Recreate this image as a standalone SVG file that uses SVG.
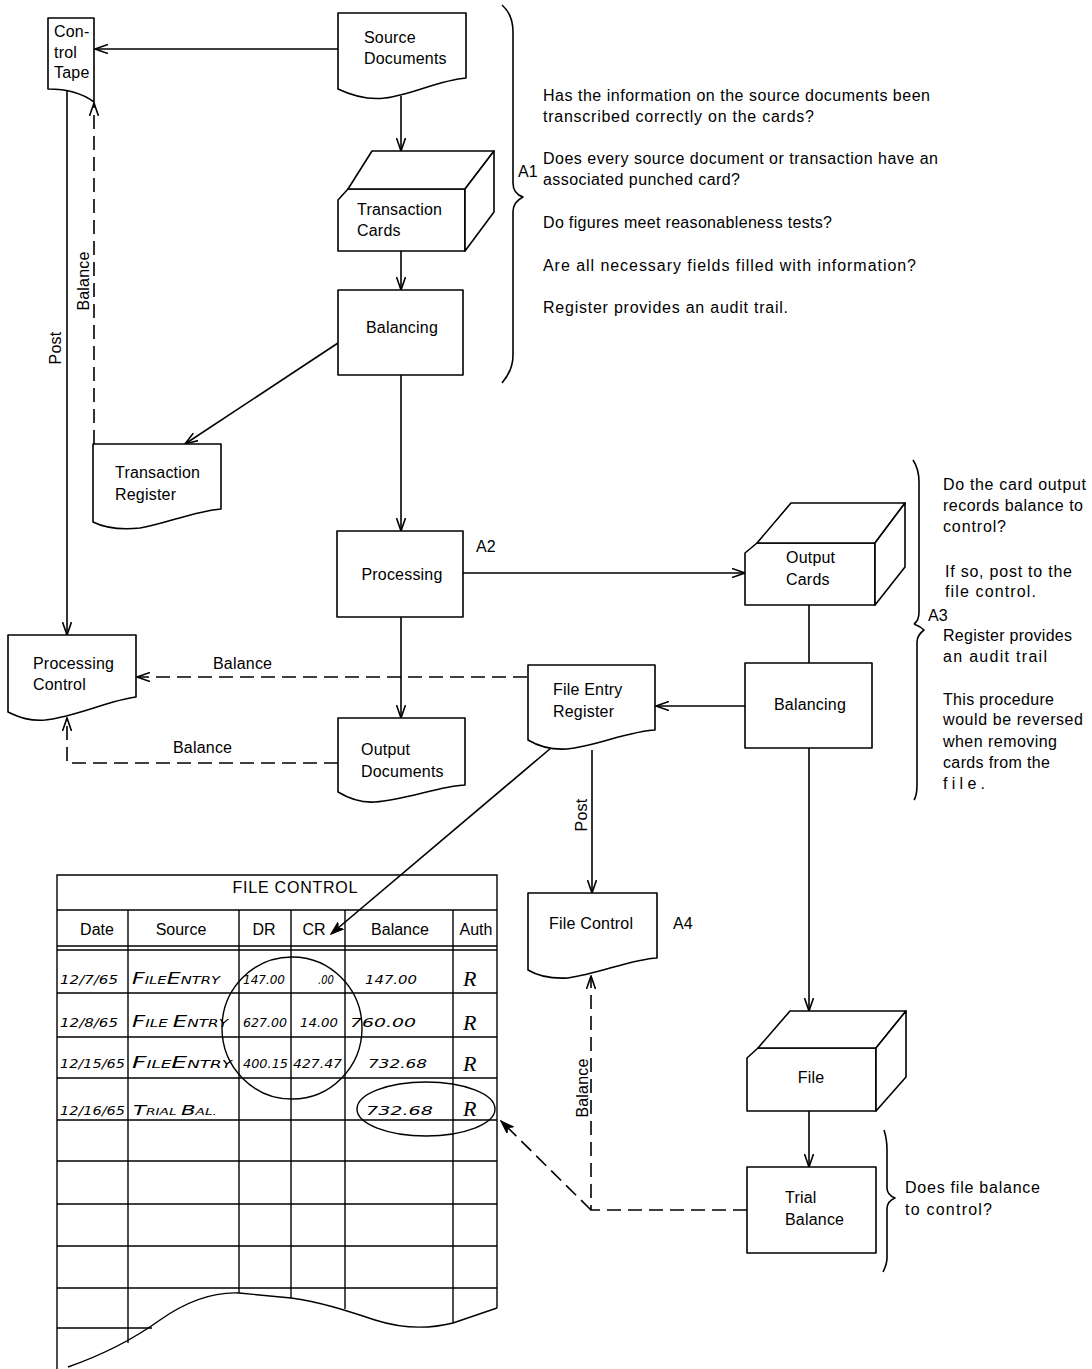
<svg xmlns="http://www.w3.org/2000/svg" width="1092" height="1369" viewBox="0 0 1092 1369">
<style>
.s{fill:none;stroke:#000;stroke-width:1.6;stroke-linejoin:round}
.w{fill:#fff;stroke:#000;stroke-width:1.6;stroke-linejoin:round}
.d{fill:none;stroke:#000;stroke-width:1.6;stroke-dasharray:14 7}
.g{fill:none;stroke:#000;stroke-width:1.4}
.t{font-family:"Liberation Sans",Arial,sans-serif;font-size:16px;letter-spacing:0.2px;fill:#000}
.c{text-anchor:middle}
.n{font-family:"Liberation Sans",Arial,sans-serif;font-size:16px;fill:#000}
.h{font-family:"DejaVu Sans",sans-serif;font-style:oblique;font-size:13px;fill:#000}
.r{font-family:"Liberation Serif",serif;font-style:italic;font-size:22px;fill:#000}
</style>
<defs>
<marker id="a" viewBox="0 0 14 10" refX="13" refY="5" markerWidth="14" markerHeight="10" markerUnits="userSpaceOnUse" orient="auto">
<path d="M0,0.5 L13,5 L0,9.5" fill="none" stroke="#000" stroke-width="1.6"/>
</marker>
<marker id="b" viewBox="0 0 14 10" refX="13" refY="5" markerWidth="14" markerHeight="10" markerUnits="userSpaceOnUse" orient="auto">
<path d="M0,0.5 L13,5 L0,9.5 L4,5 Z" fill="#000" stroke="#000" stroke-width="1.2"/>
</marker>
</defs>
<rect width="1092" height="1369" fill="#fff"/>

<g id="connectors">
<line class="s" x1="338" y1="49" x2="95" y2="49" marker-end="url(#a)"/>
<line class="s" x1="401" y1="96" x2="401" y2="151" marker-end="url(#a)"/>
<line class="s" x1="401" y1="251" x2="401" y2="290" marker-end="url(#a)"/>
<line class="s" x1="338" y1="343" x2="185" y2="444" marker-end="url(#a)"/>
<line class="s" x1="401" y1="375" x2="401" y2="531" marker-end="url(#a)"/>
<line class="s" x1="67" y1="89" x2="67" y2="635" marker-end="url(#a)"/>
<line class="d" x1="94" y1="444" x2="94" y2="103" marker-end="url(#a)"/>
<line class="s" x1="463" y1="573" x2="745" y2="573" marker-end="url(#a)"/>
<line class="s" x1="401" y1="617" x2="401" y2="718" marker-end="url(#a)"/>
<line class="d" x1="527" y1="677" x2="137" y2="677" marker-end="url(#a)"/>
<polyline class="d" points="338,763 67,763 67,718" marker-end="url(#a)"/>
<line class="s" x1="809" y1="605" x2="809" y2="663"/>
<line class="s" x1="745" y1="706" x2="656" y2="706" marker-end="url(#a)"/>
<line class="s" x1="592" y1="750" x2="592" y2="893" marker-end="url(#a)"/>
<line class="s" x1="551" y1="748" x2="331" y2="934" marker-end="url(#b)"/>
<line class="s" x1="809" y1="748" x2="809" y2="1011" marker-end="url(#a)"/>
<line class="s" x1="809" y1="1111" x2="809" y2="1167" marker-end="url(#a)"/>
<polyline class="d" points="747,1210 591,1210 591,976" marker-end="url(#a)"/>
<line class="d" x1="591" y1="1210" x2="501" y2="1121" marker-end="url(#b)"/>
<text class="t" transform="translate(61,348) rotate(-90)" text-anchor="middle">Post</text>
<text class="t" transform="translate(89,281) rotate(-90)" text-anchor="middle">Balance</text>
<text class="t" x="213" y="669">Balance</text>
<text class="t" x="173" y="753">Balance</text>
<text class="t" transform="translate(587,815) rotate(-90)" text-anchor="middle">Post</text>
<text class="t" transform="translate(588,1088) rotate(-90)" text-anchor="middle">Balance</text>
</g>

<g id="control-tape">
<path class="w" d="M48,89 L48,18 L94,18 L94,102 C82,93 66,89 48,89 Z"/>
<text class="t" x="54" y="37">Con-</text>
<text class="t" x="54" y="58">trol</text>
<text class="t" x="54" y="78">Tape</text>
</g>

<g id="source-documents">
<path class="w" d="M338,89 L338,13 L466,13 L466,78 C440,80 410,95 385,98 C370,100 355,97 338,89 Z"/>
<text class="t" x="364" y="43">Source</text>
<text class="t" x="364" y="64">Documents</text>
</g>

<g id="transaction-cards">
<path class="w" d="M338,200 L348,189 L465,189 L465,251 L338,251 Z"/>
<path class="w" d="M348,189 L372,151 L494,151 L465,189 Z"/>
<path class="w" d="M465,189 L494,151 L494,212 L465,251 Z"/>
<text class="t" x="357" y="215">Transaction</text>
<text class="t" x="357" y="236">Cards</text>
</g>

<g id="balancing-1">
<rect class="w" x="338" y="290" width="125" height="85"/>
<text class="t c" x="402" y="333">Balancing</text>
</g>

<g id="transaction-register">
<path class="w" d="M93,522 L93,444 L221,444 L221,509 C195,511 165,524 140,528 C120,530 105,528 93,522 Z"/>
<text class="t" x="115" y="478">Transaction</text>
<text class="t" x="115" y="500">Register</text>
</g>

<g id="processing">
<rect class="w" x="337" y="531" width="126" height="86"/>
<text class="t c" x="402" y="580">Processing</text>
<text class="t" x="476" y="552">A2</text>
</g>

<g id="processing-control">
<path class="w" d="M8,712 L8,635 L136,635 L136,697 C110,700 75,717 45,720 C30,721 20,718 8,712 Z"/>
<text class="t" x="33" y="669">Processing</text>
<text class="t" x="33" y="690">Control</text>
</g>

<g id="output-documents">
<path class="w" d="M338,792 L338,718 L465,718 L465,785 C440,786 405,800 375,802 C360,803 348,798 338,792 Z"/>
<text class="t" x="361" y="755">Output</text>
<text class="t" x="361" y="777">Documents</text>
</g>

<g id="output-cards">
<path class="w" d="M745,553 L757,543 L875,543 L875,605 L745,605 Z"/>
<path class="w" d="M757,543 L791,503 L905,503 L875,543 Z"/>
<path class="w" d="M875,543 L905,503 L905,567 L875,605 Z"/>
<text class="t" x="786" y="563">Output</text>
<text class="t" x="786" y="585">Cards</text>
</g>

<g id="balancing-2">
<rect class="w" x="745" y="663" width="127" height="85"/>
<text class="t c" x="810" y="710">Balancing</text>
</g>

<g id="file-entry-register">
<path class="w" d="M528,740 L528,665 L655,665 L655,730 C630,731 595,746 567,749 C550,750 538,746 528,740 Z"/>
<text class="t" x="553" y="695">File Entry</text>
<text class="t" x="553" y="717">Register</text>
</g>

<g id="file-control">
<path class="w" d="M528,970 L528,893 L657,893 L657,958 C632,959 598,974 568,978 C550,979 538,976 528,970 Z"/>
<text class="t" x="549" y="929">File Control</text>
<text class="t" x="673" y="929">A4</text>
</g>

<g id="file">
<path class="w" d="M747,1058 L758,1048 L876,1048 L876,1111 L747,1111 Z"/>
<path class="w" d="M758,1048 L790,1011 L906,1011 L876,1048 Z"/>
<path class="w" d="M876,1048 L906,1011 L906,1077 L876,1111 Z"/>
<text class="t c" x="811" y="1083">File</text>
</g>

<g id="trial-balance">
<rect class="w" x="747" y="1167" width="129" height="86"/>
<text class="t" x="785" y="1203">Trial</text>
<text class="t" x="785" y="1225">Balance</text>
</g>

<g id="note-a1">
<path class="s" d="M502,5 C510,12 513,20 513,32 L513,183 C513,190 517,195 523,197 C517,200 513,204 513,212 L513,355 C513,366 509,375 502,383"/>
<text class="n" x="518" y="177">A1</text>
<text class="n" x="543" y="101" textLength="387" lengthAdjust="spacing">Has the information on the source documents been</text>
<text class="n" x="543" y="122" textLength="271" lengthAdjust="spacing">transcribed correctly on the cards?</text>
<text class="n" x="543" y="164" textLength="395" lengthAdjust="spacing">Does every source document or transaction have an</text>
<text class="n" x="543" y="185" textLength="197" lengthAdjust="spacing">associated punched card?</text>
<text class="n" x="543" y="228" textLength="289" lengthAdjust="spacing">Do figures meet reasonableness tests?</text>
<text class="n" x="543" y="271" textLength="373" lengthAdjust="spacing">Are all necessary fields filled with information?</text>
<text class="n" x="543" y="313" textLength="245" lengthAdjust="spacing">Register provides an audit trail.</text>
</g>

<g id="note-a3">
<path class="s" d="M913,460 C917,466 919,472 919,482 L919,612 C919,618 917,622 914,624 M914,624 C919,626 922,628 924,630 C920,633 917,637 917,642 L917,785 C917,792 916,797 914,800"/>
<text class="n" x="928" y="621">A3</text>
<text class="n" x="943" y="490" textLength="143" lengthAdjust="spacing">Do the card output</text>
<text class="n" x="943" y="511" textLength="140" lengthAdjust="spacing">records balance to</text>
<text class="n" x="943" y="532" textLength="63" lengthAdjust="spacing">control?</text>
<text class="n" x="945" y="577" textLength="127" lengthAdjust="spacing">If so, post to the</text>
<text class="n" x="945" y="597" textLength="91" lengthAdjust="spacing">file control.</text>
<text class="n" x="943" y="641" textLength="129" lengthAdjust="spacing">Register provides</text>
<text class="n" x="943" y="662" textLength="104" lengthAdjust="spacing">an audit trail</text>
<text class="n" x="943" y="705" textLength="111" lengthAdjust="spacing">This procedure</text>
<text class="n" x="943" y="725" textLength="140" lengthAdjust="spacing">would be reversed</text>
<text class="n" x="943" y="747" textLength="114" lengthAdjust="spacing">when removing</text>
<text class="n" x="943" y="768" textLength="107" lengthAdjust="spacing">cards from the</text>
<text class="n" x="943" y="789" textLength="42" lengthAdjust="spacing">file.</text>
</g>

<g id="note-trial">
<path class="s" d="M884,1130 C886,1136 887,1142 887,1150 L887,1188 C887,1193 890,1196 895,1198 C890,1200 887,1203 887,1209 L887,1258 C887,1264 885,1268 883,1272"/>
<text class="n" x="905" y="1193" textLength="135" lengthAdjust="spacing">Does file balance</text>
<text class="n" x="905" y="1215" textLength="87" lengthAdjust="spacing">to control?</text>
</g>

<g id="file-control-table">
<path class="g" d="M57,1369 L57,875 L497,875 L497,1308"/>
<line class="g" x1="57" y1="910" x2="497" y2="910"/>
<line class="g" x1="57" y1="946" x2="497" y2="946"/>
<line class="g" x1="57" y1="950" x2="497" y2="950"/>
<line class="g" x1="57" y1="993" x2="497" y2="993"/>
<line class="g" x1="57" y1="1037" x2="497" y2="1037"/>
<line class="g" x1="57" y1="1078" x2="497" y2="1078"/>
<line class="g" x1="57" y1="1120" x2="497" y2="1120"/>
<line class="g" x1="57" y1="1161" x2="497" y2="1161"/>
<line class="g" x1="57" y1="1204" x2="497" y2="1204"/>
<line class="g" x1="57" y1="1246" x2="497" y2="1246"/>
<line class="g" x1="57" y1="1288" x2="497" y2="1288"/>
<line class="g" x1="57" y1="1328" x2="152" y2="1328"/>
<line class="g" x1="128" y1="910" x2="128" y2="1343"/>
<line class="g" x1="239" y1="910" x2="239" y2="1293"/>
<line class="g" x1="291" y1="910" x2="291" y2="1298"/>
<line class="g" x1="345" y1="910" x2="345" y2="1309"/>
<line class="g" x1="453" y1="910" x2="453" y2="1323"/>
<path class="g" d="M68,1367 C105,1354 135,1338 160,1320 C190,1299 215,1292 239,1293 L291,1298 C320,1302 345,1310 375,1320 C400,1328 425,1330 453,1323 L497,1308"/>
<text class="n c" x="295" y="893" textLength="125" lengthAdjust="spacing">FILE CONTROL</text>
<text class="n c" x="97" y="935">Date</text>
<text class="n c" x="181" y="935">Source</text>
<text class="n c" x="264" y="935">DR</text>
<text class="n c" x="314" y="935">CR</text>
<text class="n c" x="400" y="935">Balance</text>
<text class="n c" x="476" y="935">Auth</text>

<text class="h" x="60" y="984" textLength="58" lengthAdjust="spacingAndGlyphs">12/7/65</text>
<text class="h" x="132" y="984" textLength="88" lengthAdjust="spacingAndGlyphs"><tspan font-size="15">F</tspan><tspan font-size="10">ILE</tspan><tspan font-size="15">E</tspan><tspan font-size="10">NTRY</tspan></text>
<text class="h" x="243" y="984" textLength="42" lengthAdjust="spacingAndGlyphs">147.00</text>
<text class="h" x="318" y="984" textLength="16" lengthAdjust="spacingAndGlyphs">.00</text>
<text class="h" x="365" y="984" textLength="52" lengthAdjust="spacingAndGlyphs">147.00</text>
<text class="r" x="463" y="986">R</text>

<text class="h" x="60" y="1027" textLength="58" lengthAdjust="spacingAndGlyphs">12/8/65</text>
<text class="h" x="132" y="1027" textLength="96" lengthAdjust="spacingAndGlyphs"><tspan font-size="15">F</tspan><tspan font-size="10">ILE </tspan><tspan font-size="15">E</tspan><tspan font-size="10">NTRY</tspan></text>
<text class="h" x="243" y="1027" textLength="44" lengthAdjust="spacingAndGlyphs">627.00</text>
<text class="h" x="300" y="1027" textLength="38" lengthAdjust="spacingAndGlyphs">14.00</text>
<text class="h" x="350" y="1027" textLength="66" lengthAdjust="spacingAndGlyphs">760.00</text>
<text class="r" x="463" y="1030">R</text>

<text class="h" x="60" y="1068" textLength="65" lengthAdjust="spacingAndGlyphs">12/15/65</text>
<text class="h" x="132" y="1068" textLength="100" lengthAdjust="spacingAndGlyphs"><tspan font-size="15">F</tspan><tspan font-size="10">ILE</tspan><tspan font-size="15">E</tspan><tspan font-size="10">NTRY</tspan></text>
<text class="h" x="243" y="1068" textLength="45" lengthAdjust="spacingAndGlyphs">400.15</text>
<text class="h" x="293" y="1068" textLength="49" lengthAdjust="spacingAndGlyphs">427.47</text>
<text class="h" x="368" y="1068" textLength="59" lengthAdjust="spacingAndGlyphs">732.68</text>
<text class="r" x="463" y="1071">R</text>

<text class="h" x="60" y="1115" textLength="65" lengthAdjust="spacingAndGlyphs">12/16/65</text>
<text class="h" x="133" y="1115" textLength="84" lengthAdjust="spacingAndGlyphs"><tspan font-size="14">T</tspan><tspan font-size="9">RIAL </tspan><tspan font-size="14">B</tspan><tspan font-size="9">AL.</tspan></text>
<text class="h" x="366" y="1115" textLength="67" lengthAdjust="spacingAndGlyphs" font-size="15">732.68</text>
<text class="r" x="463" y="1116">R</text>

<ellipse class="g" cx="292" cy="1028" rx="70" ry="71"/>
<ellipse class="g" cx="426" cy="1109" rx="69" ry="27"/>
</g>
</svg>
